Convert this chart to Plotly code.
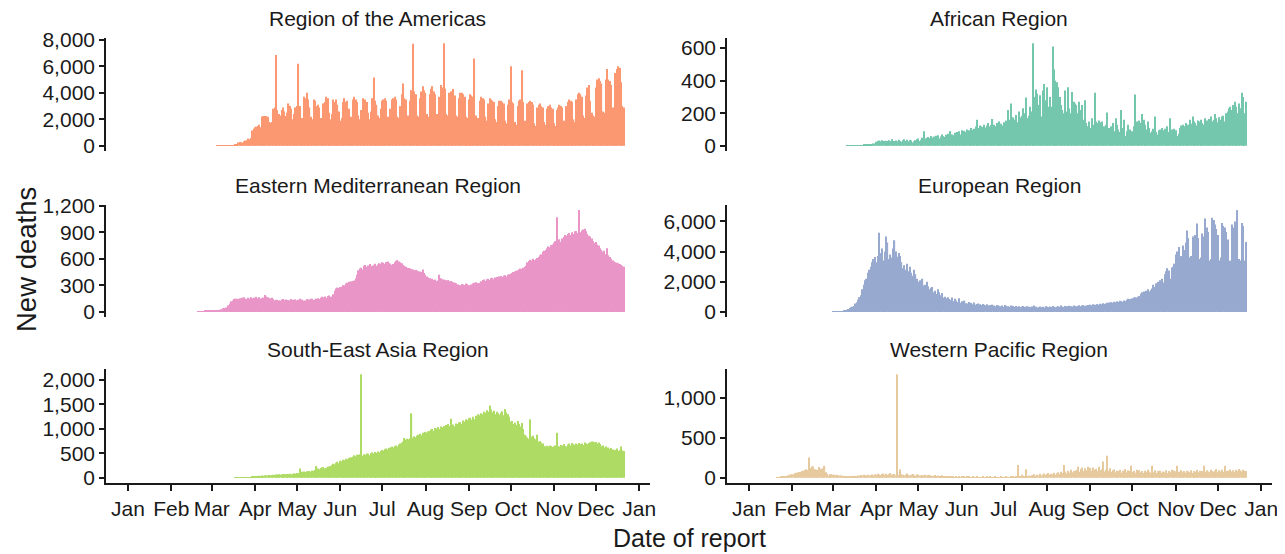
import pandas as pd
import plotly.graph_objects as go

# ---------------- data (daily new deaths by date of report, 2020) ----------------
americas_start = "2020-03-05"
americas = [
    1, 2, 2, 3, 4, 6, 10,
    12, 15, 20, 30, 45, 60, 110,
    150, 260, 300, 280, 250, 350, 400,
    420, 550, 500, 600, 1150, 1300, 1400,
    1450, 1500, 1600, 1400, 2200, 2250, 2250,
    2250, 2200, 1800, 1750, 1800, 2800, 2900,
    6850, 2700, 2400, 2300, 2700, 2900, 2600,
    2250, 2500, 3200, 3000, 2800, 2000, 2400,
    2900, 3000, 6200, 3000, 150, 2100, 3700,
    3600, 4000, 3500, 2900, 2200, 2000, 3500,
    3400, 3000, 3100, 2900, 2100, 1900, 3200,
    3300, 3700, 3600, 2500, 2000, 2400, 3500,
    3300, 3500, 3100, 2600, 1900, 2100, 3300,
    3600, 3300, 3400, 2800, 1900, 2200, 3500,
    3700, 3500, 3300, 2300, 2000, 2700, 3600,
    3400, 3500, 3300, 2500, 2000, 2600, 3600,
    5150, 3400, 3100, 2300, 2100, 2800, 3400,
    3500, 3600, 3400, 2200, 2000, 2800, 3500,
    3600, 3700, 3500, 2200, 2100, 3000, 3900,
    4700, 3600, 3500, 2300, 2300, 3400, 4200,
    7700, 4100, 3900, 2300, 2200, 3600, 4100,
    4500, 4200, 4000, 2400, 2200, 3900, 4300,
    4500, 4100, 3900, 2400, 2300, 3700, 4600,
    4400, 7750, 4300, 2400, 2300, 4000, 4100,
    4100, 4300, 3800, 2300, 2200, 3600, 4000,
    4000, 3900, 3700, 2200, 2100, 3500, 3900,
    3800, 3700, 6600, 2300, 2000, 2100, 3400,
    3700, 3600, 3500, 2200, 1900, 3200, 3600,
    3500, 3400, 3300, 2000, 1800, 3000, 3400,
    3400, 3300, 3200, 1900, 1700, 3100, 3500,
    6000, 3300, 3200, 1800, 1600, 3000, 3400,
    3500, 5700, 3300, 1900, 1700, 3200, 3300,
    3400, 3300, 3100, 1700, 1500, 2900, 3100,
    3200, 3000, 2900, 1800, 1600, 2800, 3000,
    3100, 2900, 2800, 1700, 1500, 2700, 2900,
    3100, 3000, 2900, 1900, 1700, 3000, 3300,
    3500, 3400, 3300, 2000, 1800, 3500, 3900,
    4000, 3900, 3700, 2300, 2100, 3800, 4400,
    4600, 3400, 2500, 2300, 2200, 4400, 5000,
    5100, 4900, 4700, 2600, 2500, 5000, 5800,
    5000, 4900, 4600, 2900, 2700, 5500, 5800,
    6000, 5900, 4800, 3000, 2900,
]

african_start = "2020-03-11"
african = [
    1, 1, 2, 1, 2, 3, 2,
    3, 4, 3, 5, 4, 6, 5,
    8, 7, 10, 12, 9, 15, 14,
    25, 30, 33, 28, 35, 30, 32,
    22, 30, 35, 28, 40, 25, 30,
    33, 28, 38, 30, 25, 35, 40,
    30, 38, 27, 36, 33, 20, 28,
    35, 40, 45, 30, 38, 50, 90,
    45, 50, 55, 48, 60, 52, 58,
    50, 62, 65, 45, 58, 70, 60,
    55, 68, 75, 60, 90, 70, 65,
    80, 72, 85, 90, 70, 95, 88,
    92, 85, 100, 95, 80, 110, 98,
    105, 118, 160, 110, 125, 120, 115,
    130, 112, 125, 140, 118, 128, 165,
    130, 120, 140, 115, 150, 135, 125,
    145, 120, 155, 220, 160, 260, 150,
    175, 160, 190, 145, 210, 175, 185,
    230, 200, 296, 170, 185, 240, 210,
    630, 300, 345, 320, 250, 310, 180,
    340, 380, 280, 360, 240, 300, 240,
    610, 470, 400, 390, 360, 300, 250,
    220, 200, 340, 210, 360, 230, 200,
    330, 270, 260, 250, 200, 270, 220,
    250, 160, 280, 140, 120, 150, 110,
    170, 130, 325, 150, 140, 155, 145,
    150, 100, 120, 130, 205, 110, 95,
    120, 140, 90, 170, 130, 100, 85,
    220, 110, 160, 60, 90, 130, 100,
    65, 90, 120, 315, 150, 140, 155,
    140, 195, 160, 130, 100, 150, 110,
    80, 90, 105, 180, 85, 70, 95,
    100, 110, 95, 105, 90, 120, 85,
    170, 100, 90, 105, 95, 60, 75,
    110, 125, 130, 120, 140, 105, 130,
    160, 135, 180, 150, 140, 125, 155,
    150, 160, 140, 130, 170, 155, 145,
    165, 180, 150, 160, 195, 170, 145,
    175, 160, 180, 185, 150, 200, 210,
    230, 240, 220, 250, 270, 240, 200,
    260, 230, 325, 300, 200, 270,
]

emr_start = "2020-02-20"
emr = [
    2, 2, 4, 4, 8, 12, 15,
    16, 11, 16, 18, 14, 15, 12,
    16, 17, 25, 30, 40, 45, 50,
    48, 75, 95, 120, 130, 145, 150,
    150, 145, 155, 150, 160, 165, 150,
    145, 160, 150, 165, 155, 160, 150,
    170, 155, 165, 150, 158, 162, 190,
    175, 165, 150, 155, 160, 145, 130,
    138, 135, 128, 130, 140, 145, 135,
    140, 130, 135, 128, 145, 138, 125,
    142, 130, 138, 150, 135, 140, 125,
    130, 145, 135, 140, 148, 150, 135,
    140, 150, 155, 145, 160, 170, 165,
    175, 160, 180, 185, 170, 175, 200,
    240, 265, 275, 270, 280, 285, 300,
    300, 320, 330, 340, 335, 345, 350,
    355, 380, 420, 470, 490, 500, 480,
    520, 530, 510, 525, 540, 505, 520,
    530, 545, 520, 535, 550, 545, 560,
    555, 540, 565, 570, 550, 545, 530,
    540, 560, 575, 585, 570, 560, 550,
    530, 520, 510, 500, 495, 490, 485,
    480, 470, 475, 465, 460, 455, 450,
    480, 440, 420, 400, 390, 380, 370,
    375, 360, 365, 350, 355, 420, 380,
    370, 365, 360, 355, 360, 345, 350,
    340, 335, 330, 325, 310, 305, 300,
    315, 310, 305, 320, 315, 300, 295,
    310, 320, 330, 335, 310, 325, 330,
    345, 360, 365, 350, 370, 375, 360,
    380, 385, 370, 390, 395, 385, 400,
    405, 395, 410, 415, 400, 420, 425,
    430, 440, 450, 455, 465, 470, 480,
    490, 485, 500, 510, 520, 560, 575,
    590, 580, 600, 585, 595, 610, 620,
    640, 650, 680, 690, 700, 720, 740,
    730, 755, 760, 780, 800, 1070, 810,
    820, 790, 830, 850, 870, 860, 880,
    890, 870, 900, 880, 910, 915, 890,
    1150, 900, 920, 930, 940, 910, 880,
    860, 850, 830, 800, 780, 790, 760,
    750, 720, 700, 680, 690, 650, 720,
    640, 620, 600, 580, 570, 560, 555,
    550, 540, 530, 520, 510,
]

european_start = "2020-03-01"
european = [
    5, 8, 10, 15, 20, 30, 40,
    50, 70, 100, 150, 200, 260, 310,
    350, 400, 550, 640, 800, 980, 1100,
    1500, 1800, 2100, 2200, 2600, 2800, 3000,
    3300, 3500, 3640, 3300, 3700, 5240, 3900,
    4200, 3400, 4000, 5000, 4600, 3500, 3800,
    3600, 4200, 4750, 4000, 3650, 3900, 3700,
    3300, 2900, 3100, 2800, 3200, 2700, 3000,
    2600, 2400, 2800, 2500, 2200, 2000, 2100,
    1900, 2200, 1750, 1800, 2000, 1700, 1500,
    1600, 1650, 1300, 1400, 1200, 1500, 1300,
    1100, 1250, 950, 1000, 900, 980, 850,
    800, 950, 700, 880, 750, 650, 900,
    600, 700, 650, 750, 580, 560, 650,
    550, 600, 500, 620, 480, 530, 560,
    500, 450, 520, 480, 440, 500, 420,
    460, 400, 480, 430, 380, 450, 420,
    400, 380, 420, 350, 450, 400, 370,
    340, 420, 360, 400, 330, 390, 350,
    380, 320, 360, 400, 340, 310, 380,
    350, 330, 360, 310, 420, 340, 300,
    330, 360, 320, 350, 300, 380, 340,
    320, 360, 330, 400, 340, 310, 350,
    380, 340, 420, 360, 330, 400, 370,
    350, 410, 380, 360, 420, 390, 370,
    400, 440, 380, 420, 450, 400, 430,
    460, 420, 480, 440, 500, 470, 450,
    520, 480, 540, 500, 580, 530, 560,
    600, 620, 560, 650, 600, 680, 640,
    700, 660, 740, 700, 680, 760, 720,
    800, 880, 860, 820, 900, 960, 980,
    950, 1000, 1050, 1200, 1300, 1350, 1250,
    1400, 1500, 1350, 1450, 1550, 1800, 1650,
    1900, 2000, 1850, 2100, 2200, 1950, 2500,
    2700, 2900, 2750, 2200, 2950, 3000, 3200,
    3800, 4000, 4300, 3600, 3700, 4400, 4100,
    4600, 5400, 4900, 3600, 3700, 5000, 4800,
    5100, 5860, 4900, 3500, 3600, 5200, 5000,
    6200, 5600, 5300, 3400, 3500, 6250, 6100,
    5800, 5500, 5100, 3400, 3600, 5900, 5700,
    5600, 5300, 4800, 3300, 3400, 5800, 5600,
    6000, 5900, 6750, 3500, 3400, 5900, 5700,
    3400, 4640,
]

sear_start = "2020-03-18"
sear = [
    1, 2, 2, 3, 4, 5, 6,
    8, 10, 12, 14, 15, 18, 20,
    30, 35, 28, 40, 38, 45, 42,
    50, 48, 55, 60, 52, 58, 65,
    60, 70, 68, 72, 65, 75, 70,
    78, 72, 80, 76, 85, 70, 82,
    90, 85, 100, 95, 190, 120, 125,
    130, 120, 135, 128, 140, 125, 150,
    145, 160, 240, 190, 175, 200, 210,
    220, 190, 205, 230, 215, 240, 260,
    290, 280, 310, 330, 300, 350, 340,
    370, 360, 390, 380, 410, 400, 420,
    430, 460, 440, 470, 470, 480, 2120,
    450, 480, 470, 500, 490, 460, 510,
    520, 500, 530, 510, 540, 520, 550,
    570, 560, 590, 600, 580, 610, 620,
    640, 620, 650, 660, 640, 680, 700,
    720, 740, 815, 780, 800, 790, 810,
    1320, 820, 850, 830, 860, 880, 900,
    870, 920, 900, 940, 920, 955, 960,
    990, 1000, 960, 1020, 1010, 1040, 1000,
    1050, 1030, 1060, 1010, 1080, 1100, 1060,
    1210, 1070, 1090, 1050, 1110, 1100, 1130,
    1140, 1100, 1170, 1150, 1200, 1180, 1220,
    1230, 1190, 1250, 1200, 1270, 1240, 1300,
    1280, 1320, 1300, 1350, 1330, 1380, 1350,
    1480, 1400, 1340, 1370, 1300, 1350, 1320,
    1290, 1330, 1360, 1280, 1410, 1340, 1300,
    1250, 1150, 1160, 1100, 1130, 1080, 1160,
    1100, 1050, 1120, 1000, 880, 850, 820,
    800, 1200, 840, 860, 810, 790, 880,
    745, 750, 720, 700, 650, 640, 655,
    640, 660, 650, 630, 645, 660, 920,
    650, 640, 670, 660, 690, 650, 640,
    680, 700, 660, 710, 690, 670, 700,
    680, 710, 690, 700, 670, 720, 700,
    690, 710, 730, 745, 740, 730, 735,
    700, 720, 690, 650, 660, 620, 640,
    600, 620, 590, 610, 580, 560, 570,
    600, 550, 570, 640, 560, 550,
]

wpr_start = "2020-01-21"
wpr = [
    3, 6, 9, 15, 16, 15, 24,
    26, 26, 38, 43, 46, 45, 57,
    64, 66, 73, 73, 86, 89, 97,
    108, 97, 254, 121, 143, 142, 106,
    105, 98, 136, 114, 118, 109, 150,
    71, 52, 29, 44, 47, 35, 42,
    31, 38, 31, 30, 28, 27, 22,
    17, 22, 11, 18, 15, 20, 25,
    18, 22, 30, 28, 35, 30, 38,
    25, 32, 40, 28, 35, 42, 30,
    45, 38, 50, 42, 35, 48, 55,
    40, 52, 38, 45, 60, 42, 35,
    48, 30, 1300, 40, 105, 45, 38,
    30, 42, 55, 36, 28, 40, 48,
    32, 25, 45, 38, 30, 22, 35,
    28, 40, 33, 25, 38, 30, 22,
    26, 35, 20, 30, 18, 25, 32,
    15, 20, 12, 18, 10, 14, 22,
    12, 8, 15, 10, 18, 6, 12,
    9, 14, 7, 11, 16, 8, 10,
    12, 6, 9, 15, 7, 10, 8,
    11, 5, 9, 13, 8, 12, 6,
    9, 7, 12, 5, 10, 8, 11,
    6, 9, 7, 12, 10, 8, 14,
    10, 12, 9, 15, 160, 20, 18,
    40, 25, 15, 107, 22, 30, 18,
    35, 25, 45, 20, 38, 30, 50,
    28, 42, 55, 35, 48, 60, 40,
    52, 45, 65, 38, 58, 70, 48,
    75, 60, 160, 80, 55, 90, 65,
    100, 70, 85, 60, 95, 140, 75,
    110, 130, 85, 120, 95, 140, 105,
    125, 90, 130, 100, 115, 85, 140,
    95, 110, 205, 80, 100, 278, 90,
    120, 75, 95, 105, 70, 90, 85,
    100, 65, 90, 80, 110, 70, 95,
    85, 150, 75, 90, 65, 100, 80,
    95, 70, 85, 60, 90, 75, 100,
    80, 65, 150, 70, 95, 60, 85,
    75, 90, 65, 80, 70, 95, 60,
    85, 70, 100, 65, 90, 80, 150,
    75, 60, 95, 70, 85, 65, 90,
    80, 70, 95, 60, 85, 75, 100,
    70, 90, 65, 85, 150, 75, 95,
    80, 70, 100, 85, 75, 90, 110,
    70, 95, 80, 100, 75, 150, 85,
    90, 70, 105, 80, 95, 75, 100,
    85, 110, 95, 80, 100, 90, 85,
]

region_names = ["Region of the Americas", "African Region",
                "Eastern Mediterranean Region", "European Region",
                "South-East Asia Region", "Western Pacific Region"]
region_starts = [americas_start, african_start, emr_start,
                 european_start, sear_start, wpr_start]
region_values = [americas, african, emr, european, sear, wpr]
region_dticks = [2000, 200, 300, 2000, 500, 500]

# ---------------- style ----------------
colors = ["#FC8D62", "#66C2A5", "#E78AC3", "#8DA0CB", "#A6D854", "#E5C494"]
W, H = 1285, 554
OFF = 8  # page body margin offset (px) compensated in the layout
col_px = [(106 - OFF, 650 - OFF), (727 - OFF, 1272 - OFF)]
row_px = [(38 - OFF, 151 - OFF), (205 - OFF, 317 - OFF), (369 - OFF, 483 - OFF)]
FONT = "Liberation Sans, Arial, Helvetica, sans-serif"
INK = "#1a1a1a"
x_range = ["2019-12-16 07:00", "2021-01-08 17:00"]

fig = go.Figure()
annotations = []
for i in range(6):
    r, c = divmod(i, 2)
    n = i + 1
    xs = pd.date_range(region_starts[i], periods=len(region_values[i]), freq="D")
    fig.add_trace(go.Bar(
        x=xs, y=region_values[i], marker=dict(color=colors[i], line=dict(width=0)),
        opacity=0.9,
        xaxis=f"x{n}", yaxis=f"y{n}", showlegend=False,
        hovertemplate="%{x|%d %b %Y}: %{y:,}<extra></extra>",
    ))
    xd = [col_px[c][0] / W, col_px[c][1] / W]
    yd = [1 - row_px[r][1] / H, 1 - row_px[r][0] / H]
    vmax = max(region_values[i])
    bottom = (r == 2)
    fig.layout[f"xaxis{n}"] = dict(
        domain=xd, anchor=f"y{n}", type="date", range=x_range,
        showgrid=False, zeroline=False, automargin=False,
        showline=bottom, linecolor=INK, linewidth=1.6,
        ticks="outside" if bottom else "", ticklen=6, tickwidth=1.6, tickcolor=INK,
        showticklabels=bottom, tick0="2020-01-01", dtick="M1", tickformat="%b",
        tickfont=dict(family=FONT, size=21, color=INK),
        fixedrange=True,
    )
    fig.layout[f"yaxis{n}"] = dict(
        domain=yd, anchor=f"x{n}", range=[-0.05 * vmax, 1.05 * vmax],
        showgrid=False, zeroline=False, automargin=False,
        showline=True, linecolor=INK, linewidth=1.6,
        ticks="outside", ticklen=5, tickwidth=1.6, tickcolor=INK,
        tickmode="linear", tick0=0, dtick=region_dticks[i], tickformat=",",
        tickfont=dict(family=FONT, size=21, color=INK),
        fixedrange=True,
    )
    annotations.append(dict(
        text=region_names[i], xref="paper", yref="paper",
        x=(xd[0] + xd[1]) / 2, y=yd[1], xanchor="center", yanchor="bottom",
        yshift=6, showarrow=False, font=dict(family=FONT, size=21, color=INK),
    ))

annotations.append(dict(
    text="New deaths", xref="paper", yref="paper", x=(26 - OFF) / W, y=1 - (260 - OFF) / H,
    xanchor="center", yanchor="middle", textangle=-90, showarrow=False,
    font=dict(family=FONT, size=27.5, color=INK),
))
annotations.append(dict(
    text="Date of report", xref="paper", yref="paper", x=(689 - OFF) / W, y=1 - (538 - OFF) / H,
    xanchor="center", yanchor="middle", showarrow=False,
    font=dict(family=FONT, size=25, color=INK),
))

fig.update_layout(
    template="none",
    width=W, height=H, margin=dict(l=0, r=0, t=0, b=0, autoexpand=False),
    paper_bgcolor="white", plot_bgcolor="white",
    bargap=0.12, annotations=annotations,
    font=dict(family=FONT, color=INK),
)

fig.write_html("out.html")
